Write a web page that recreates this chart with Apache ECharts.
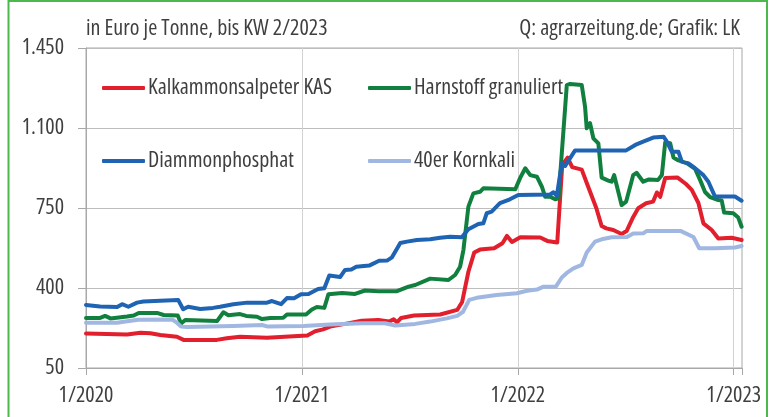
<!DOCTYPE html>
<html>
<head>
<meta charset="utf-8">
<script src="https://cdn.jsdelivr.net/npm/echarts@6/dist/echarts.min.js"></script>
<style>
html, body { margin: 0; padding: 0; background: #fff; }
#chart { width: 783px; height: 417px; }
</style>
</head>
<body>
<div id="chart"></div>
<script>
// Wochenindex ab KW 1/2020, Preise in Euro je Tonne
var yearTicks = {0: '1/2020', 52: '1/2021', 104: '1/2022', 156: '1/2023'};
var yBase = 50;

var kasWeeks = [0, 9.9, 13.1, 15.5, 17.9, 21.9, 23.5, 31.5, 33.9, 37.1, 43.6, 50, 53.3, 55.2, 57.1, 58.8, 62.4, 66.4, 70.4, 73, 74.1, 74.9, 75.9, 79, 85.3, 89.4, 90.6, 92.1, 93.5, 94.9, 98.3, 100.3, 101.4, 102.6, 104.6, 109.4, 111.1, 113.5, 114.7, 116, 117.1, 119.4, 120.7, 122.9, 124.2, 125.3, 127, 129, 130.2, 131.8, 133, 134.9, 136.6, 137.5, 138.3, 139.5, 142.5, 144.5, 145.9, 147.5, 148.7, 150.7, 152.3, 155.5, 157.9];
var kasPrice = [201, 197, 204, 202, 194, 187, 173, 173, 180, 187, 182, 189, 192, 211, 219, 231, 243, 257, 260, 253, 263, 250, 269, 280, 284, 304, 339, 471, 555, 568, 574, 596, 628, 601, 622, 621, 606, 599, 938, 970, 929, 918, 855, 750, 671, 661, 654, 636, 649, 711, 749, 771, 778, 818, 799, 881, 883, 855, 829, 772, 683, 654, 617, 620, 610];

var harnWeeks = [0, 3.4, 4.6, 5.9, 9.9, 11.5, 12.7, 17.1, 18.7, 22.1, 22.9, 23.9, 31.6, 33.1, 34.3, 37.1, 38.6, 41.2, 42.4, 44.4, 47.5, 48.4, 53, 54.4, 55.6, 57.4, 58.4, 61.7, 64.8, 67.2, 70.4, 74.9, 77.7, 79.3, 82.9, 87.3, 88.9, 90.1, 90.9, 92.1, 93.3, 94.9, 95.7, 103.4, 104.6, 105.8, 107, 108.6, 109.8, 110.6, 111.8, 113, 113.8, 115.8, 116.6, 119.4, 120.2, 120.6, 121.4, 122.2, 123.4, 124.2, 125.8, 126.6, 127.2, 127.9, 129, 130.1, 131.8, 132.6, 134.2, 135.6, 137.8, 138.7, 139.5, 140.7, 141.5, 142.7, 144.7, 146.7, 147.9, 149.1, 150.3, 152.3, 153.1, 153.7, 155.9, 157.1, 157.9];
var harnPrice = [269, 269, 278, 267, 275, 280, 291, 291, 282, 280, 245, 260, 256, 294, 281, 286, 278, 274, 264, 269, 270, 284, 284, 306, 317, 313, 373, 378, 374, 389, 386, 386, 406, 413, 441, 435, 457, 493, 566, 756, 814, 821, 836, 832, 883, 924, 894, 887, 843, 799, 799, 788, 792, 1288, 1293, 1288, 1193, 1099, 1121, 1055, 1033, 883, 870, 865, 894, 843, 763, 778, 894, 904, 865, 875, 873, 894, 1037, 1033, 971, 958, 946, 921, 873, 820, 798, 785, 783, 730, 727, 708, 668];

var dapWeeks = [0, 3.4, 7.5, 8.7, 10.2, 12.3, 13.8, 17.9, 22.2, 23.4, 24.6, 27.5, 30.6, 32.3, 35.5, 38.8, 43.6, 44.8, 47, 48.4, 50.1, 51.8, 53.6, 55.9, 57.4, 58.6, 61.2, 62.4, 63.9, 65.1, 68.2, 70.6, 72.5, 73.7, 75.7, 77.3, 79.7, 82.9, 85.3, 87.7, 90.5, 92.1, 94.5, 95.7, 96.5, 97.7, 99.7, 102.1, 104.1, 111.8, 112.6, 113.4, 114.6, 115.4, 117.8, 130.1, 132.3, 134.2, 136.6, 139.1, 139.9, 141.1, 142.7, 143.5, 145.1, 146.7, 148.7, 149.9, 151.5, 156.3, 157.9];
var dapPrice = [326, 319, 317, 329, 318, 336, 341, 344, 348, 307, 318, 308, 313, 318, 329, 336, 336, 343, 329, 356, 355, 373, 374, 396, 399, 455, 448, 479, 481, 493, 498, 519, 520, 534, 597, 603, 610, 613, 620, 624, 622, 657, 680, 683, 727, 734, 771, 788, 807, 809, 819, 803, 945, 934, 1002, 1002, 1026, 1040, 1058, 1062, 1040, 996, 996, 953, 945, 924, 894, 865, 800, 800, 782];

var kaliWeeks = [0, 7.5, 9.5, 12.6, 20.8, 21.7, 22.9, 24.3, 35.5, 42.4, 43.6, 52.4, 58.8, 66.5, 72, 74.5, 79.3, 82.9, 86.9, 89.4, 90.8, 92.3, 94.1, 98.9, 103.8, 106.2, 108.6, 110.2, 113.2, 114.6, 115.8, 117.4, 119.4, 120.6, 122.6, 124.2, 126.6, 130.3, 131.8, 134.2, 135, 143.3, 146.3, 147.7, 151.5, 156.3, 157.9];
var kaliPrice = [248, 248, 253, 261, 262, 251, 231, 229, 234, 238, 232, 234, 240, 246, 246, 236, 243, 253, 267, 278, 296, 348, 357, 369, 377, 388, 393, 406, 407, 446, 466, 486, 501, 555, 603, 613, 622, 623, 638, 639, 649, 649, 623, 574, 574, 577, 584];

// schmale Schrift: Open Sans mit condensed-Breite
var FONT = "'Open Sans', sans-serif";
var STRETCH = 'condensed';
var FSIZE = 22;
var TXT = '#3f3f3f';

function pairs(weeks, prices) {
    var out = [];
    for (var i = 0; i < weeks.length; i++) {
        out.push([weeks[i], prices[i] - yBase]);
    }
    return out;
}

function thousands(n) {
    return String(n).replace(/\B(?=(\d{3})+(?!\d))/g, '.');
}

function textStyle() {
    return { fontFamily: FONT, fontSize: FSIZE, fontWeight: STRETCH, color: TXT };
}

function lineSeries(name, color, weeks, prices) {
    return {
        name: name,
        type: 'line',
        symbol: 'none',
        showSymbol: false,
        lineStyle: { color: color, width: 4, cap: 'round', join: 'round' },
        itemStyle: { color: color },
        data: pairs(weeks, prices)
    };
}

function legendAt(name, left, top) {
    var ts = textStyle();
    ts.padding = [0, 0, 0, -2];
    return {
        data: [name],
        left: left,
        top: top,
        padding: 0,
        icon: 'roundRect',
        itemWidth: 43,
        itemHeight: 4,
        textStyle: ts
    };
}

var myChart = echarts.init(document.getElementById('chart'));
myChart.setOption({
    animation: false,
    backgroundColor: '#fff',
    title: [
        { text: 'in Euro je Tonne, bis KW 2/2023', left: 86, top: 18, padding: 0, textStyle: textStyle() },
        { text: 'Q: agrarzeitung.de; Grafik: LK', right: 43, top: 18, padding: 0, textStyle: textStyle() }
    ],
    legend: [
        legendAt('Kalkammonsalpeter KAS', 102, 77),
        legendAt('Harnstoff granuliert', 368, 77),
        legendAt('Diammonphosphat', 102, 150),
        legendAt('40er Kornkali', 368, 150)
    ],
    graphic: [{
        type: 'rect',
        shape: { x: 8.5, y: 1, width: 758.5, height: 425 },
        style: { fill: 'none', stroke: '#4cb94c', lineWidth: 2 },
        silent: true
    }],
    grid: {
        left: 86, right: 41, top: 48, bottom: 49,
        show: true, borderColor: '#a8a8a8', borderWidth: 1
    },
    xAxis: {
        type: 'value',
        min: 0, max: 158, interval: 52,
        axisLine: { lineStyle: { color: '#a8a8a8' } },
        axisTick: { length: 7, lineStyle: { color: '#a8a8a8' } },
        splitLine: { lineStyle: { color: '#d2d2d2' } },
        axisLabel: Object.assign(textStyle(), {
            margin: 17,
            formatter: function (v) { return yearTicks[v] || ''; }
        })
    },
    yAxis: {
        type: 'value',
        min: 0, max: 1400, interval: 350,
        axisLine: { show: true, lineStyle: { color: '#a8a8a8' } },
        axisTick: { show: true, length: 8, lineStyle: { color: '#a8a8a8' } },
        splitLine: { lineStyle: { color: '#bdbdbd' } },
        axisLabel: Object.assign(textStyle(), {
            margin: 22,
            formatter: function (v) { return thousands(v + yBase); }
        })
    },
    series: [
        lineSeries('Kalkammonsalpeter KAS', '#e21f2d', kasWeeks, kasPrice),
        lineSeries('Harnstoff granuliert', '#11803f', harnWeeks, harnPrice),
        lineSeries('Diammonphosphat', '#1f63b3', dapWeeks, dapPrice),
        lineSeries('40er Kornkali', '#a0b7e1', kaliWeeks, kaliPrice)
    ]
});
</script>
</body>
</html>
